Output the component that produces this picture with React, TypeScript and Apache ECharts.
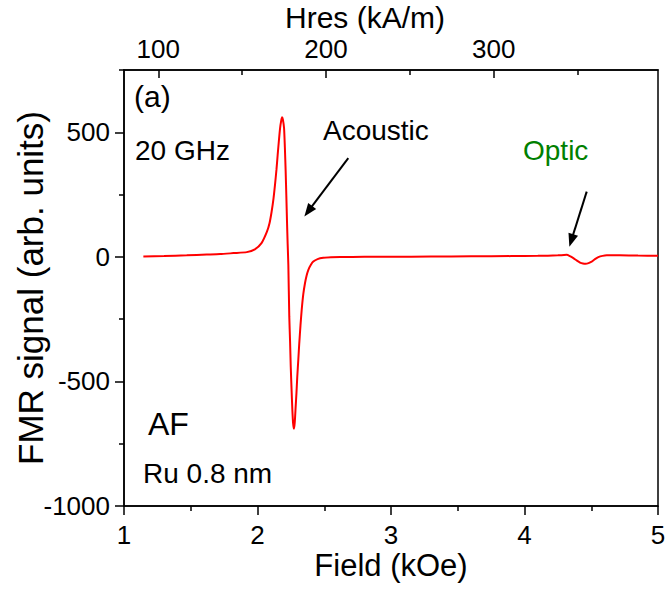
import { useEffect, useRef } from 'react';
import * as echarts from 'echarts';

// FMR derivative spectrum, Ru 0.8 nm spacer, AF coupled, 20 GHz
const FIELD_KOE = [
  1.145, 1.3, 1.47, 1.62, 1.72, 1.82, 1.92, 1.98, 2.03, 2.07, 2.09, 2.106, 2.12, 2.131, 2.142,
  2.151, 2.16, 2.169, 2.177, 2.184, 2.19, 2.199, 2.205, 2.211, 2.216, 2.221, 2.226, 2.231, 2.238,
  2.244, 2.249, 2.255, 2.261, 2.267, 2.273, 2.279, 2.286, 2.292, 2.298, 2.306, 2.313, 2.322, 2.331,
  2.343, 2.356, 2.368, 2.381, 2.4, 2.418, 2.45, 2.493, 2.55, 2.62, 2.8, 3.0, 3.3, 3.6, 3.9, 4.1,
  4.25, 4.316, 4.34, 4.366, 4.39, 4.416, 4.438, 4.458, 4.48, 4.503, 4.528, 4.553, 4.585, 4.616,
  4.715, 4.85, 5.0,
];
const FMR_SIGNAL = [
  1, 3, 6, 9, 11, 15, 19, 30, 55, 100, 135, 182, 235, 289, 350,
  409, 465, 516, 545, 560, 552, 516, 440, 342, 245, 142, 50, -32, -239,
  -340, -440, -530, -613, -670, -690, -665, -600, -545, -480, -410, -346, -275, -213,
  -150, -105, -75, -52, -32, -19, -9, -4, -2, -1, 0, 0, 1, 2, 3, 4,
  6, 8, 3, -5, -14, -23, -27, -28, -25, -19, -9, -1, 4, 6,
  6, 5, 4,
];

// secondary scale: resonance field in kA/m
const KAM_PER_KOE = 79.5775;
const HRES_MAJOR = [100, 200, 300];
const HRES_MINOR = [150, 250, 350];

const FIELD_MAJOR_STEP = 1;
const SIGNAL_MAJOR = [-1000, -500, 0, 500];
const SIGNAL_MINOR = [-750, -250, 250, 750];

// annotation arrows, [start, end] in (kOe, signal)
const ACOUSTIC_ARROW = [[2.68, 396], [2.351, 162]];
const OPTIC_ARROW = [[4.466, 262], [4.336, 41]];

const FONT = '"Liberation Sans", Arial, sans-serif';
const AXIS_COLOR = '#000';

function label(
  text: string,
  x: number,
  y: number,
  size: number,
  color = '#000',
  align: 'left' | 'center' = 'left',
) {
  return {
    type: 'text',
    x,
    y,
    silent: true,
    style: {
      text,
      fill: color,
      font: `${size}px ${FONT}`,
      lineHeight: size,
      textAlign: align,
      textVerticalAlign: 'middle',
      align,
      verticalAlign: 'middle',
    },
  };
}

// straight shaft plus filled triangular head, in pixels
function arrow(from: number[], to: number[], headLen = 13, headHalf = 5) {
  const dx = to[0] - from[0];
  const dy = to[1] - from[1];
  const len = Math.hypot(dx, dy) || 1;
  const ux = dx / len;
  const uy = dy / len;
  const bx = to[0] - ux * headLen;
  const by = to[1] - uy * headLen;
  return [
    {
      type: 'line',
      silent: true,
      shape: { x1: from[0], y1: from[1], x2: bx + ux * 2, y2: by + uy * 2 },
      style: { stroke: '#000', lineWidth: 2 },
    },
    {
      type: 'polygon',
      silent: true,
      shape: {
        points: [
          [to[0], to[1]],
          [bx - uy * headHalf, by + ux * headHalf],
          [bx + uy * headHalf, by - ux * headHalf],
        ],
      },
      style: { fill: '#000' },
    },
  ];
}

export default function App() {
  const ref = useRef<HTMLDivElement>(null);

  useEffect(() => {
    if (!ref.current) return;
    const chart = echarts.init(ref.current, undefined, { renderer: 'svg' });

    const toKoe = (h: number) => h / KAM_PER_KOE;
    const axisLine = { show: true, onZero: false, lineStyle: { color: AXIS_COLOR, width: 1.5 } };
    const tickStyle = { color: AXIS_COLOR, width: 1.5 };
    const labelStyle = { color: '#000', fontSize: 26, lineHeight: 26, fontFamily: FONT };
    const nameStyle = { color: '#000', fontSize: 31, lineHeight: 31, fontFamily: FONT };

    chart.setOption({
      animation: false,
      backgroundColor: '#fff',
      textStyle: { fontFamily: FONT },
      grid: {
        left: 124,
        right: 9,
        top: 70,
        bottom: 85,
        containLabel: false,
        outerBoundsMode: 'none',
        show: true,
        borderColor: AXIS_COLOR,
        borderWidth: 1.5,
        backgroundColor: 'transparent',
      },
      xAxis: [
        {
          type: 'value',
          position: 'bottom',
          min: 1,
          max: 5,
          interval: FIELD_MAJOR_STEP,
          axisLine,
          axisTick: { show: true, length: 9, lineStyle: tickStyle },
          minorTick: { show: true, splitNumber: 2, length: 5, lineStyle: tickStyle },
          splitLine: { show: false },
          axisLabel: { ...labelStyle, margin: 16 },
          name: 'Field (kOe)',
          nameLocation: 'middle',
          nameGap: 44,
          nameMoveOverlap: false,
          nameTextStyle: nameStyle,
        },
        {
          type: 'value',
          position: 'top',
          min: 1,
          max: 5,
          axisLine,
          axisTick: {
            show: true,
            inside: true,
            length: 8,
            lineStyle: tickStyle,
            customValues: HRES_MAJOR.map(toKoe),
          },
          splitLine: { show: false },
          axisLabel: {
            ...labelStyle,
            margin: 8.5,
            customValues: HRES_MAJOR.map(toKoe),
            formatter: (v: number) => String(Math.round(v * KAM_PER_KOE)),
          },
        },
        {
          type: 'value',
          position: 'top',
          min: 1,
          max: 5,
          axisLine: { show: false, onZero: false },
          axisTick: {
            show: true,
            inside: true,
            length: 5,
            lineStyle: tickStyle,
            customValues: HRES_MINOR.map(toKoe),
          },
          splitLine: { show: false },
          axisLabel: { show: false },
        },
      ],
      yAxis: [
        {
          type: 'value',
          position: 'left',
          min: -1000,
          max: 750,
          axisLine,
          axisTick: { show: true, length: 9, lineStyle: tickStyle, customValues: SIGNAL_MAJOR },
          splitLine: { show: false },
          axisLabel: {
            ...labelStyle,
            margin: 14,
            customValues: SIGNAL_MAJOR,
            formatter: (v: number) => String(v),
          },
          name: 'FMR signal (arb. units)',
          nameLocation: 'middle',
          nameGap: 76,
          nameMoveOverlap: false,
          nameTextStyle: { ...nameStyle, fontSize: 35, lineHeight: 35 },
        },
        {
          type: 'value',
          position: 'left',
          min: -1000,
          max: 750,
          axisLine: { show: false, onZero: false },
          axisTick: { show: true, length: 5, lineStyle: tickStyle, customValues: SIGNAL_MINOR },
          splitLine: { show: false },
          axisLabel: { show: false },
        },
      ],
      series: [
        {
          type: 'line',
          xAxisIndex: 0,
          yAxisIndex: 0,
          data: FIELD_KOE.map((f, i) => [f, FMR_SIGNAL[i]]),
          showSymbol: false,
          smooth: 0.2,
          lineStyle: { color: '#ff0000', width: 2 },
        },
      ],
    });

    const px = (c: number[]) =>
      chart.convertToPixel({ xAxisIndex: 0, yAxisIndex: 0 }, c) as number[];

    chart.setOption({
      graphic: [
        label('Hres (kA/m)', 365, 17, 30, '#000', 'center'),
        label('(a)', 134, 96, 30),
        label('20 GHz', 135, 150, 28),
        label('Acoustic', 323, 130, 28),
        label('Optic', 523, 150, 28, '#008000'),
        label('AF', 148, 424, 32),
        label('Ru 0.8 nm', 143, 473, 28),
        ...arrow(px(ACOUSTIC_ARROW[0]), px(ACOUSTIC_ARROW[1])),
        ...arrow(px(OPTIC_ARROW[0]), px(OPTIC_ARROW[1])),
      ],
    });

    return () => chart.dispose();
  }, []);

  return (
    <div
      ref={ref}
      style={{ position: 'fixed', left: 0, top: 0, width: 667, height: 591, background: '#fff' }}
    />
  );
}
